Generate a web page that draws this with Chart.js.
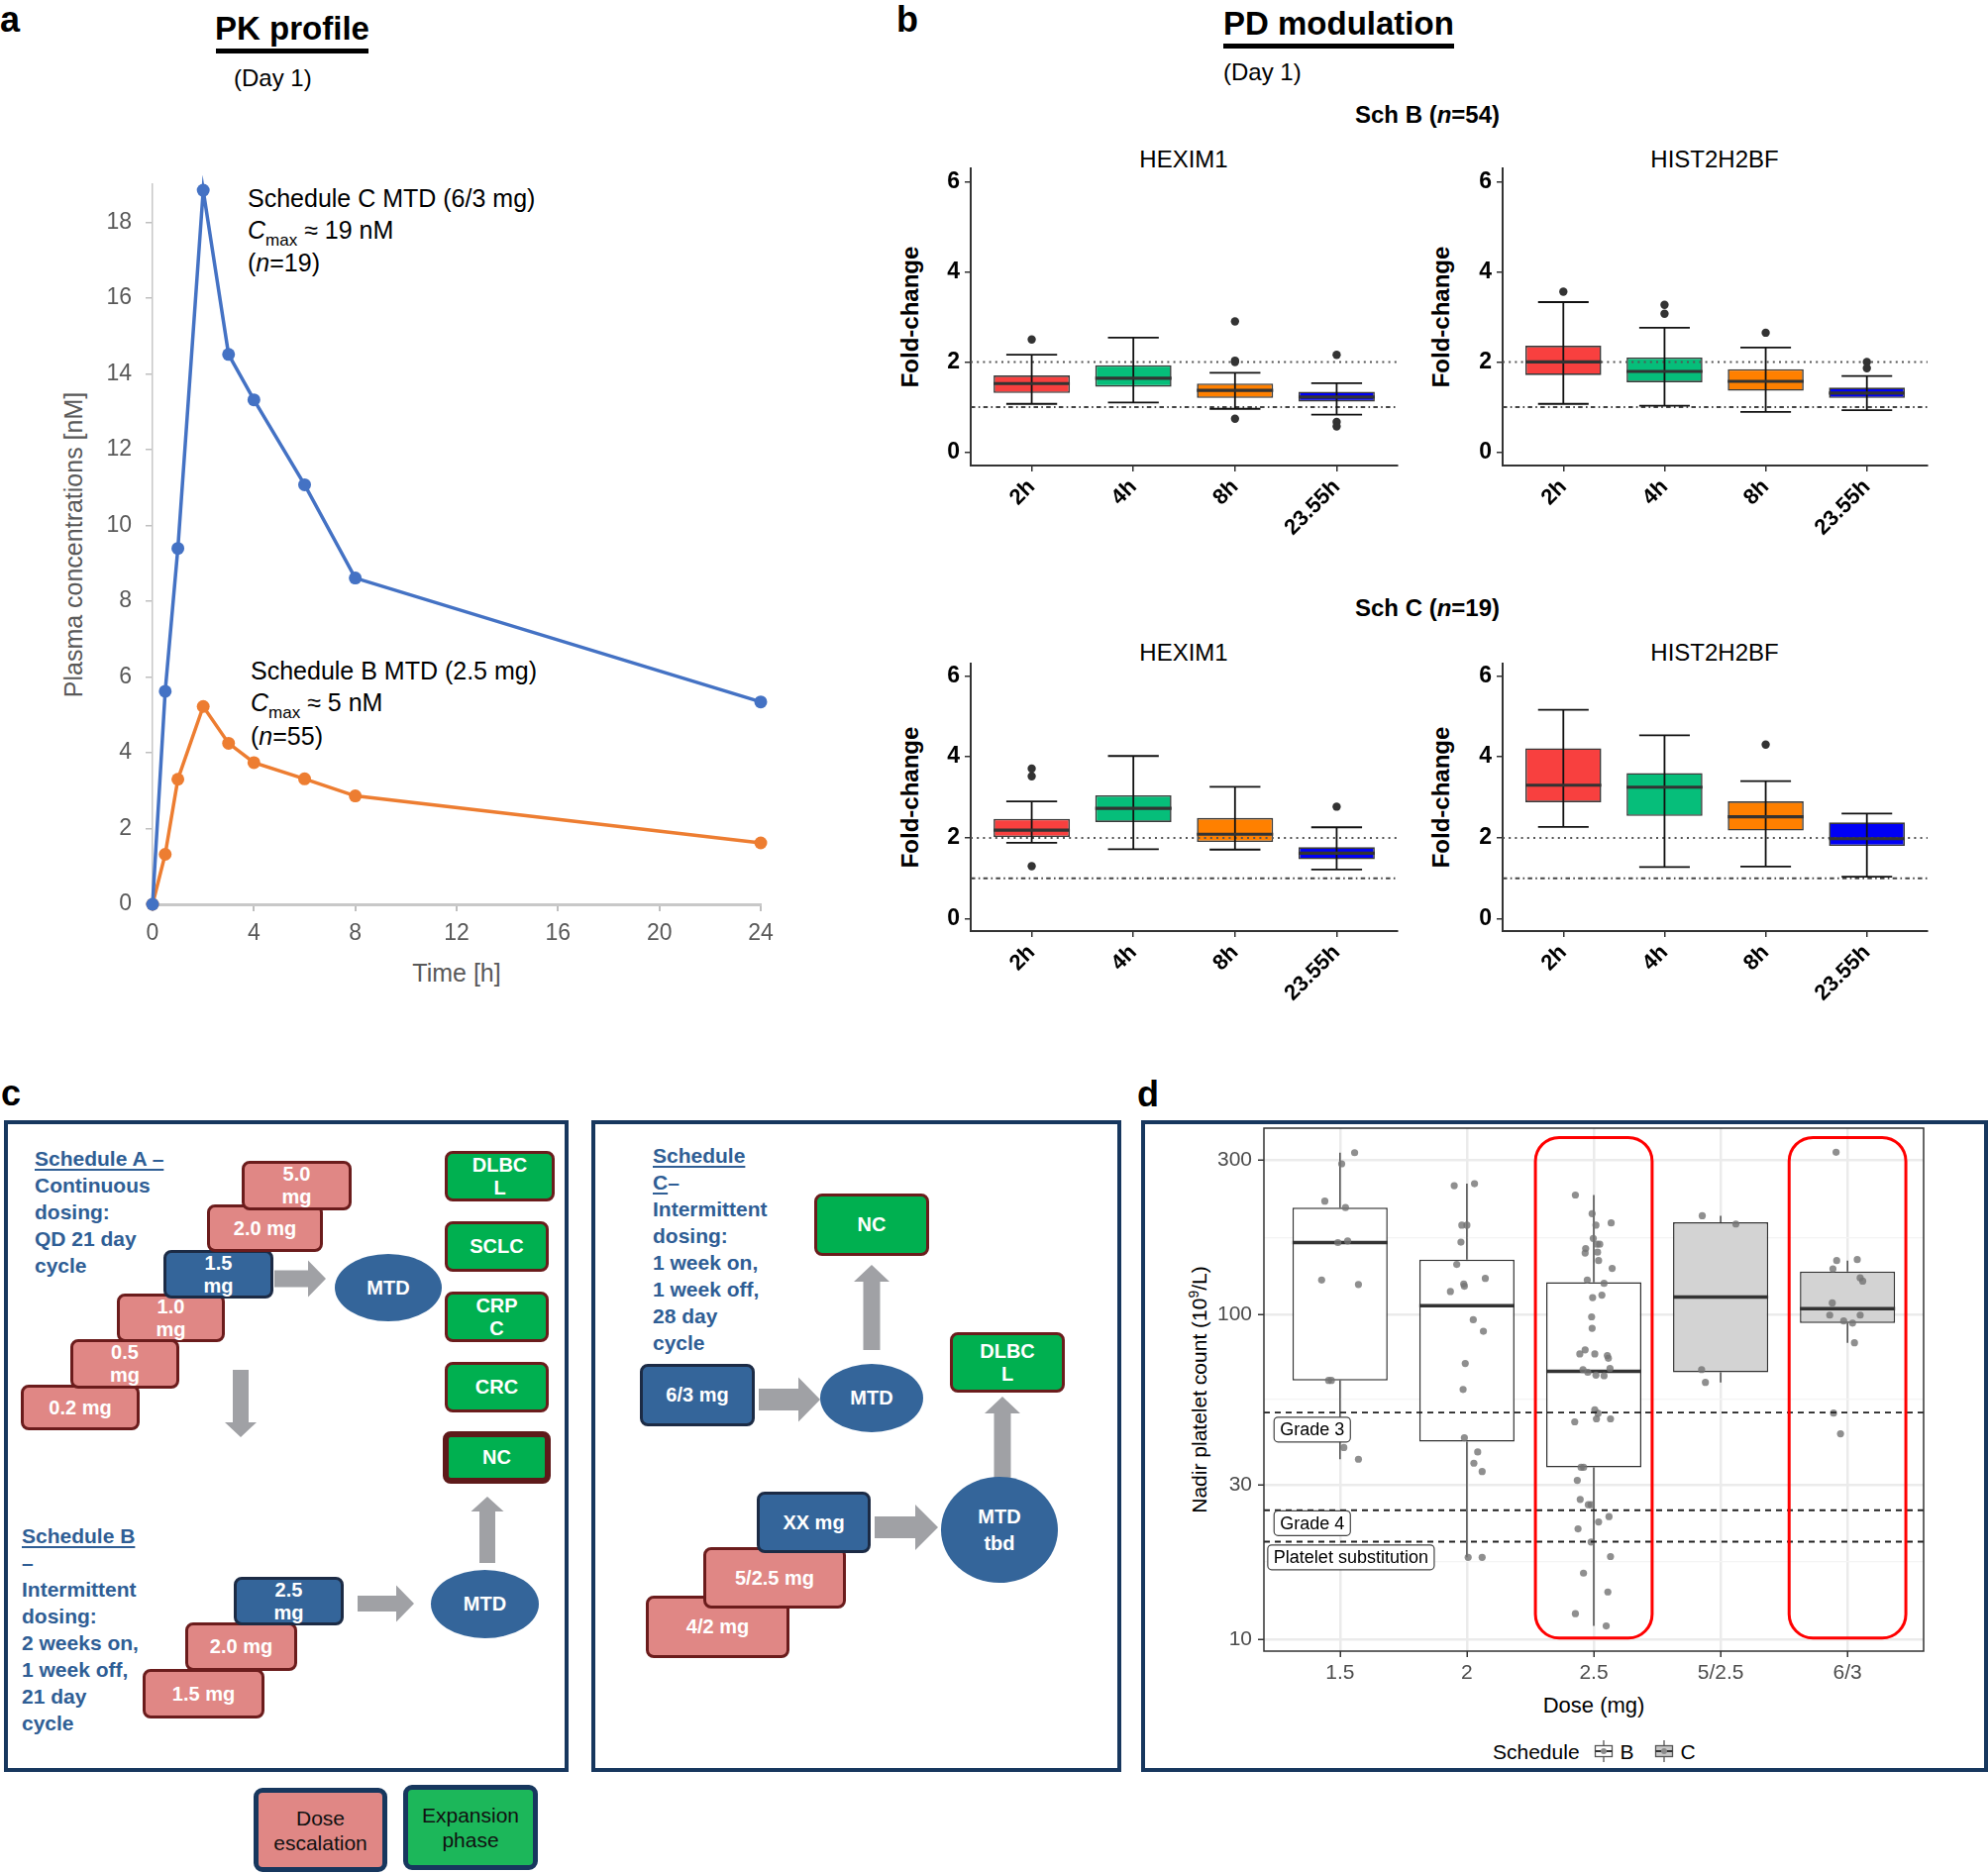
<!DOCTYPE html>
<html>
<head>
<meta charset="utf-8">
<title>PK / PD figure</title>
<script src="https://cdn.jsdelivr.net/npm/chart.js@4.4.1/dist/chart.umd.min.js"></script>
<style>
html,body{margin:0;padding:0;background:#fff;}
#root{position:relative;width:2007px;height:1891px;overflow:hidden;font-family:'Liberation Sans',Arial,Helvetica,sans-serif;color:#000;}
.t{position:absolute;white-space:nowrap;line-height:1;}
.c{transform:translate(-50%,-50%);}
.cr{transform:translate(-50%,-50%) rotate(-90deg);}
.lbl{font-weight:bold;font-size:36px;}
canvas{position:absolute;}
.frame{position:absolute;box-sizing:border-box;border:4px solid #17375e;}
.bx{position:absolute;box-sizing:border-box;border-radius:8px;display:flex;align-items:center;justify-content:center;text-align:center;color:#fff;font-weight:bold;font-size:20px;line-height:23px;}
.pink{background:#e08785;border:3px solid #6b1c1c;}
.blue{background:#34659a;border:3px solid #1c2b45;}
.green{background:#00b050;border:3px solid #6b1c1c;}
.ell{position:absolute;border-radius:50%;background:#34659a;color:#fff;font-weight:bold;font-size:20px;display:flex;align-items:center;justify-content:center;text-align:center;line-height:27px;}
.sched{position:absolute;color:#2f5e95;font-weight:bold;font-size:21px;line-height:27px;white-space:nowrap;}
.sched u{text-decoration-thickness:2px;text-underline-offset:3px;}
.leg{position:absolute;box-sizing:border-box;border:5px solid #17375e;border-radius:9px;display:flex;align-items:center;justify-content:center;text-align:center;color:#111;font-size:21px;line-height:25px;}
</style>
</head>
<body>
<div id="root">
  <!-- panel letters -->
  <div class="t lbl" style="left:0px;top:2px">a</div>
  <div class="t lbl" style="left:905px;top:2px">b</div>
  <div class="t lbl" style="left:1px;top:1086px">c</div>
  <div class="t lbl" style="left:1148px;top:1087px">d</div>

  <!-- panel a headings -->
  <div class="t c" style="left:295px;top:28px;font-size:33px;font-weight:bold">PK profile</div>
  <div class="t" style="left:218px;top:49px;width:154px;height:5px;background:#000"></div>
  <div class="t" style="left:236px;top:67px;font-size:24px">(Day 1)</div>

  <!-- panel a annotations -->
  <div class="t" style="left:250px;top:188px;font-size:25px">Schedule C MTD (6/3 mg)</div>
  <div class="t" style="left:250px;top:220px;font-size:25px"><i>C</i><sub style="font-size:17px;vertical-align:-7px;line-height:0">max</sub> ≈ 19 nM</div>
  <div class="t" style="left:250px;top:253px;font-size:25px">(<i>n</i>=19)</div>
  <div class="t" style="left:253px;top:665px;font-size:25px">Schedule B MTD (2.5 mg)</div>
  <div class="t" style="left:253px;top:697px;font-size:25px"><i>C</i><sub style="font-size:17px;vertical-align:-7px;line-height:0">max</sub> ≈ 5 nM</div>
  <div class="t" style="left:253px;top:731px;font-size:25px">(<i>n</i>=55)</div>
  <div class="t cr" style="left:74px;top:550px;font-size:25px;color:#595959">Plasma concentrations [nM]</div>
  <div class="t c" style="left:461px;top:982px;font-size:25px;color:#595959">Time [h]</div>

  <!-- panel b headings -->
  <div class="t" style="left:1235px;top:7px;font-size:33px;font-weight:bold">PD modulation</div>
  <div class="t" style="left:1235px;top:44px;width:233px;height:5px;background:#000"></div>
  <div class="t" style="left:1235px;top:61px;font-size:24px">(Day 1)</div>
  <div class="t c" style="left:1441px;top:116px;font-size:24px;font-weight:bold">Sch B (<i>n</i>=54)</div>
  <div class="t c" style="left:1441px;top:614px;font-size:24px;font-weight:bold">Sch C (<i>n</i>=19)</div>
  <div class="t c" style="left:1195px;top:161px;font-size:24px">HEXIM1</div>
  <div class="t c" style="left:1731px;top:161px;font-size:24px">HIST2H2BF</div>
  <div class="t c" style="left:1195px;top:659px;font-size:24px">HEXIM1</div>
  <div class="t c" style="left:1731px;top:659px;font-size:24px">HIST2H2BF</div>
  <div class="t cr" style="left:919px;top:320px;font-size:24px;font-weight:bold">Fold-change</div>
  <div class="t cr" style="left:1455px;top:320px;font-size:24px;font-weight:bold">Fold-change</div>
  <div class="t cr" style="left:919px;top:805px;font-size:24px;font-weight:bold">Fold-change</div>
  <div class="t cr" style="left:1455px;top:805px;font-size:24px;font-weight:bold">Fold-change</div>

  <!-- panel c/d frames -->
  <div class="frame" style="left:4px;top:1131px;width:570px;height:658px"></div>
  <div class="frame" style="left:597px;top:1131px;width:535px;height:658px"></div>
  <div class="frame" style="left:1152px;top:1131px;width:855px;height:658px"></div>

  <svg id="arrows" width="2007" height="1891" style="position:absolute;left:0;top:0"></svg>

  <!-- panel c : schedule A -->
  <div class="sched" style="left:35px;top:1156px"><u>Schedule A –</u><br>Continuous<br>dosing:<br>QD 21 day<br>cycle</div>
  <div class="bx pink" style="left:21px;top:1398px;width:120px;height:46px">0.2 mg</div>
  <div class="bx pink" style="left:71px;top:1352px;width:110px;height:50px">0.5<br>mg</div>
  <div class="bx pink" style="left:118px;top:1306px;width:109px;height:49px">1.0<br>mg</div>
  <div class="bx blue" style="left:165px;top:1262px;width:111px;height:49px">1.5<br>mg</div>
  <div class="bx pink" style="left:209px;top:1216px;width:117px;height:48px">2.0 mg</div>
  <div class="bx pink" style="left:244px;top:1172px;width:111px;height:50px">5.0<br>mg</div>
  <div class="ell" style="left:338px;top:1266px;width:108px;height:68px">MTD</div>
  <div class="bx green" style="left:449px;top:1162px;width:111px;height:51px">DLBC<br>L</div>
  <div class="bx green" style="left:449px;top:1233px;width:105px;height:51px">SCLC</div>
  <div class="bx green" style="left:449px;top:1304px;width:105px;height:51px">CRP<br>C</div>
  <div class="bx green" style="left:449px;top:1375px;width:105px;height:51px">CRC</div>
  <div class="bx green" style="left:447px;top:1445px;width:109px;height:53px;border-width:6px;border-color:#5e1a1a">NC</div>

  <!-- panel c : schedule B -->
  <div class="sched" style="left:22px;top:1537px"><u>Schedule B </u><br>–<br>Intermittent<br>dosing:<br>2 weeks on,<br>1 week off,<br>21 day<br>cycle</div>
  <div class="bx pink" style="left:144px;top:1685px;width:123px;height:50px">1.5 mg</div>
  <div class="bx pink" style="left:187px;top:1638px;width:113px;height:49px">2.0 mg</div>
  <div class="bx blue" style="left:236px;top:1592px;width:111px;height:49px">2.5<br>mg</div>
  <div class="ell" style="left:435px;top:1585px;width:109px;height:69px">MTD</div>

  <!-- panel c : schedule C -->
  <div class="sched" style="left:659px;top:1153px"><u>Schedule </u><br><u>C</u>–<br>Intermittent<br>dosing:<br>1 week on,<br>1 week off,<br>28 day<br>cycle</div>
  <div class="bx blue" style="left:646px;top:1377px;width:116px;height:63px">6/3 mg</div>
  <div class="ell" style="left:828px;top:1377px;width:104px;height:69px">MTD</div>
  <div class="bx green" style="left:822px;top:1205px;width:116px;height:63px">NC</div>
  <div class="bx green" style="left:959px;top:1345px;width:116px;height:61px">DLBC<br>L</div>
  <div class="ell" style="left:950px;top:1491px;width:118px;height:107px">MTD<br>tbd</div>
  <div class="bx pink" style="left:652px;top:1611px;width:145px;height:63px">4/2 mg</div>
  <div class="bx pink" style="left:710px;top:1562px;width:144px;height:62px">5/2.5 mg</div>
  <div class="bx blue" style="left:764px;top:1506px;width:115px;height:62px">XX mg</div>

  <!-- panel c legend -->
  <div class="leg" style="left:256px;top:1805px;width:135px;height:85px;background:#e08785">Dose<br>escalation</div>
  <div class="leg" style="left:407px;top:1802px;width:136px;height:86px;background:#1cb75a">Expansion<br>phase</div>

  <!-- panel d texts -->
  <div class="t c" style="left:1609px;top:1722px;font-size:22px">Dose (mg)</div>
  <div class="t cr" style="left:1210px;top:1403px;font-size:21px">Nadir platelet count (10<sup style="font-size:14px;line-height:0">9</sup>/L)</div>
  <div class="t" style="left:1507px;top:1756px;font-size:21px;display:flex;align-items:center;gap:0">
    <span>Schedule</span>
    <svg width="22" height="24" style="margin-left:13px"><line x1="11" y1="1" x2="11" y2="23" stroke="#555" stroke-width="1.3"/><rect x="2.5" y="6.5" width="17" height="11" fill="#fff" stroke="#555" stroke-width="1.3"/><line x1="2.5" y1="12" x2="19.5" y2="12" stroke="#333" stroke-width="2"/><circle cx="11" cy="12" r="3" fill="#8a8a8a"/></svg>
    <span style="margin-left:6px">B</span>
    <svg width="22" height="24" style="margin-left:19px"><line x1="11" y1="1" x2="11" y2="23" stroke="#555" stroke-width="1.3"/><rect x="2.5" y="6.5" width="17" height="11" fill="#c8c8c8" stroke="#555" stroke-width="1.3"/><line x1="2.5" y1="12" x2="19.5" y2="12" stroke="#333" stroke-width="2"/><circle cx="11" cy="12" r="3" fill="#8a8a8a"/></svg>
    <span style="margin-left:6px">C</span>
  </div>

  <canvas id="chartA"></canvas>
  <canvas id="chartB1"></canvas>
  <canvas id="chartB2"></canvas>
  <canvas id="chartB3"></canvas>
  <canvas id="chartB4"></canvas>
  <canvas id="chartD"></canvas>
</div>

<script>
// ===================== DATA =====================
// Panel a: PK profile (Day 1)
const pkTimes      = [0, 0.5, 1, 2, 3, 4, 6, 8, 24];
const pkScheduleC  = [0, 5.62, 9.39, 18.84, 14.51, 13.31, 11.07, 8.61, 5.34];
const pkScheduleB  = [0, 1.32, 3.30, 5.22, 4.25, 3.74, 3.31, 2.86, 1.62];
const pkTimeTicks  = [0, 4, 8, 12, 16, 20, 24];
const pkConcTicks  = [0, 2, 4, 6, 8, 10, 12, 14, 16, 18];

// Panel b: PD modulation, boxes = [lower whisker, Q1, median, Q3, upper whisker]
const pdTimepoints = ['2h', '4h', '8h', '23.55h'];
const pdFoldTicks  = [0, 2, 4, 6];
const pdThresholds = [2, 1];
const schB_HEXIM1 = [[1.07,1.31,1.52,1.70,2.16],[1.10,1.45,1.64,1.93,2.54],[0.96,1.20,1.37,1.52,1.76],[0.83,1.12,1.22,1.34,1.53]];
const schB_HEXIM1_outliers = [[2.50],[],[2.90,2.03,2.00,0.74],[2.16,0.67,0.57]];
const schB_HIST = [[1.07,1.71,2.00,2.36,3.33],[1.03,1.55,1.79,2.10,2.76],[0.89,1.36,1.57,1.84,2.32],[0.93,1.20,1.31,1.43,1.69]];
const schB_HIST_outliers = [[3.56],[3.27,3.07],[2.65],[2.00,1.86]];
const schC_HEXIM1 = [[1.88,2.02,2.19,2.47,2.90],[1.72,2.39,2.73,3.05,4.02],[1.71,1.90,2.09,2.49,3.26],[1.22,1.47,1.62,1.77,2.26]];
const schC_HEXIM1_outliers = [[3.71,3.52,1.30],[],[],[2.77]];
const schC_HIST = [[2.27,2.88,3.30,4.21,5.16],[1.28,2.54,3.25,3.60,4.53],[1.29,2.18,2.52,2.90,3.40],[1.04,1.80,1.98,2.38,2.60]];
const schC_HIST_outliers = [[],[],[4.30],[]];

// Panel d: nadir platelet counts
const doseLabels   = ['1.5', '2', '2.5', '5/2.5', '6/3'];
const doseSchedule = ['B', 'B', 'B', 'C', 'C'];
const nadirTicks   = [10, 30, 100, 300];
const nadirMinorTicks = [17.32, 54.77, 173.2];
const nadirBoxes = [[35.9,62.8,167,214,316],[17.9,40.7,106.7,148,253.6],[11.0,33.9,67,126,234],[61.9,66.5,113.4,193,202],[82,94.3,104.5,136,147]];
const nadirValues = [
  [316,292,224,214,167,169,128,124,62.8,62.8,39,35.9],
  [250,253.6,189,189,167.5,143,129.5,124.5,122.5,118,96.6,89,70.8,58.9,41.8,37.8,34.9,32.9,17.9,17.9],
  [234,205,189,192,172,165,165,160,155,156,147,139,128,125,115,113,98.6,90.9,78,75.8,75.8,74.9,73.5,67.8,66.5,65.2,64.9,68.4,51,49.7,47.8,47.8,46.8,33.9,33.9,30.9,27.0,26.0,26.0,23.9,23.0,21.9,19.95,18.0,16.0,14.0,12.0,11.0],
  [202,190.5,67.8,61.9],
  [317,147,148,138.6,130,127,108.8,99.8,99.8,95.7,94.3,82,49.8,43]
];
const nadirJitter = [
  [0.115,0.013,-0.12,0.043,-0.017,0.06,-0.145,0.145,-0.09,-0.068,0.03,0.145],
  [-0.10,0.06,-0.04,0.0,-0.047,-0.08,0.145,-0.025,-0.02,-0.13,0.05,0.13,-0.013,-0.03,-0.02,0.085,0.055,0.12,0.01,0.12],
  [-0.145,-0.013,0.017,0.137,-0.004,0.026,0.047,-0.064,-0.068,0.03,0.038,0.145,-0.051,0.081,0.064,-0.009,-0.017,-0.013,-0.068,-0.11,0.008,0.107,0.115,-0.085,-0.047,0.017,0.081,0.128,0.008,0.034,0.132,0.021,-0.15,-0.1,-0.08,-0.13,-0.107,-0.043,-0.021,0.12,0.038,-0.124,-0.021,0.132,-0.081,0.111,-0.145,0.098],
  [-0.145,0.12,-0.15,-0.12],
  [-0.09,-0.085,0.077,-0.115,0.1,0.12,-0.12,-0.14,0.1,-0.03,0.04,0.055,-0.11,-0.055]
];
const toxicityLevels = [50, 25, 20];
const toxicityLabels = ['Grade 3', 'Grade 4', 'Platelet substitution'];
const toxicityLabelX = [-0.52, -0.52, -0.57];
const toxicityLabelY = [44.3, 22.8, 17.9];
const highlightedDoses = ['2.5', '6/3'];
const highlightRange = [10.1, 352];

// ===================== HELPERS =====================
const FONT = "'Liberation Sans', Arial, Helvetica, sans-serif";
Chart.defaults.font.family = FONT;
Chart.defaults.animation = false;

function mount(id, r) {
  const c = document.getElementById(id);
  c.width = r.w; c.height = r.h;
  c.style.left = r.l + 'px'; c.style.top = r.t + 'px';
  c.style.width = r.w + 'px'; c.style.height = r.h + 'px';
  return c.getContext('2d');
}
function fit(r, a) {
  return {
    padding: {left: 0, top: a.y0 - r.t, right: r.l + r.w - a.x1, bottom: 0},
    yWidth: a.x0 - r.l,
    xHeight: r.t + r.h - a.y1
  };
}
// force exact scale box sizes and drop label-overflow paddings so the plot area lands where wanted
function fixX(h) { return s => { s.height = h; s.paddingLeft = 0; s.paddingRight = 0; s.paddingTop = 0; s.paddingBottom = 0; }; }
function fixY(w) { return s => { s.width = w; s.paddingLeft = 0; s.paddingRight = 0; s.paddingTop = 0; s.paddingBottom = 0; }; }
function rrect(ctx, x, y, w, h, r) {
  ctx.beginPath();
  ctx.moveTo(x + r, y);
  ctx.lineTo(x + w - r, y); ctx.arcTo(x + w, y, x + w, y + r, r);
  ctx.lineTo(x + w, y + h - r); ctx.arcTo(x + w, y + h, x + w - r, y + h, r);
  ctx.lineTo(x + r, y + h); ctx.arcTo(x, y + h, x, y + h - r, r);
  ctx.lineTo(x, y + r); ctx.arcTo(x, y, x + r, y, r);
  ctx.closePath();
}
// whiskers, medians and reference lines drawn right after the box (bar) dataset
function boxPlugin(cfg) {
  return {
    id: 'boxw',
    afterDatasetDraw(chart, args) {
      if (args.meta.type !== 'bar') return;
      const ctx = chart.ctx, a = chart.chartArea, x = chart.scales.x, y = chart.scales.y;
      const unit = x.getPixelForValue(1) - x.getPixelForValue(0);
      ctx.save();
      (cfg.refLines || []).forEach(rl => {
        const py = y.getPixelForValue(rl.value);
        ctx.setLineDash(rl.dash); ctx.strokeStyle = rl.color; ctx.lineWidth = rl.width;
        ctx.beginPath(); ctx.moveTo(a.left, py); ctx.lineTo(a.right, py); ctx.stroke();
      });
      ctx.setLineDash([]);
      cfg.boxes.forEach((b, i) => {
        const cx = x.getPixelForValue(i);
        const p = b.map(v => y.getPixelForValue(v));
        ctx.strokeStyle = cfg.whiskerColor; ctx.lineWidth = cfg.whiskerWidth;
        ctx.beginPath();
        if (cfg.fullWhisker) { ctx.moveTo(cx, p[0]); ctx.lineTo(cx, p[4]); }
        else { ctx.moveTo(cx, p[3]); ctx.lineTo(cx, p[4]); ctx.moveTo(cx, p[1]); ctx.lineTo(cx, p[0]); }
        if (cfg.cap) {
          const h = unit * cfg.cap / 2;
          ctx.moveTo(cx - h, p[0]); ctx.lineTo(cx + h, p[0]);
          ctx.moveTo(cx - h, p[4]); ctx.lineTo(cx + h, p[4]);
        }
        ctx.stroke();
        const hw = unit * cfg.boxWidth / 2;
        ctx.strokeStyle = cfg.medianColor; ctx.lineWidth = cfg.medianWidth;
        ctx.beginPath(); ctx.moveTo(cx - hw, p[2]); ctx.lineTo(cx + hw, p[2]); ctx.stroke();
      });
      ctx.restore();
    }
  };
}

// ===================== PANEL A =====================
(function () {
  const rect = {l: 0, t: 150, w: 830, h: 870}, area = {x0: 154, y0: 186, x1: 768, y1: 913};
  const f = fit(rect, area);
  const line = (vals, color, label) => ({
    label, data: pkTimes.map((t, i) => ({x: t, y: vals[i]})),
    borderColor: color, backgroundColor: color, pointBackgroundColor: color,
    borderWidth: 3.5, pointRadius: 6.5, pointBorderWidth: 0, tension: 0, clip: false
  });
  new Chart(mount('chartA', rect), {
    type: 'line',
    data: {datasets: [line(pkScheduleC, '#4472c4', 'Schedule C MTD (6/3 mg)'), line(pkScheduleB, '#ed7d31', 'Schedule B MTD (2.5 mg)')]},
    options: {
      responsive: false, animation: false, devicePixelRatio: 1,
      layout: {padding: f.padding, autoPadding: false},
      plugins: {legend: {display: false}, tooltip: {enabled: false}},
      scales: {
        x: {type: 'linear', min: 0, max: 24,
            afterBuildTicks: s => { s.ticks = pkTimeTicks.map(v => ({value: v})); },
            afterFit: fixX(f.xHeight),
            ticks: {color: '#595959', font: {size: 23}, padding: 9, maxRotation: 0, autoSkip: false},
            grid: {drawOnChartArea: false, tickLength: 7, color: '#bfbfbf', lineWidth: 2},
            border: {display: true, color: '#c8c8c8', width: 3}},
        y: {min: 0, max: 19,
            afterBuildTicks: s => { s.ticks = pkConcTicks.map(v => ({value: v})); },
            afterFit: fixY(f.yWidth),
            ticks: {color: '#595959', font: {size: 23}, padding: 14},
            grid: {drawOnChartArea: false, tickLength: 7, color: '#bfbfbf', lineWidth: 1.5},
            border: {display: true, color: '#c8c8c8', width: 1.5}}
      }
    }
  });
})();

// ===================== PANEL B =====================
const pdFill = ['#f8403f', '#06be7a', '#ff8000', '#0000f5'];
function pdChart(id, rect, area, boxes, outliers) {
  const f = fit(rect, area);
  new Chart(mount(id, rect), {
    type: 'bar',
    data: {datasets: [
      {type: 'bar', data: boxes.map((b, i) => ({x: i, y: [b[1], b[3]]})),
       backgroundColor: pdFill, borderColor: '#3a3a3a', borderWidth: 1.6, borderSkipped: false,
       barPercentage: 0.75, categoryPercentage: 1, grouped: false, order: 2},
      {type: 'scatter', data: outliers.flatMap((arr, i) => arr.map(v => ({x: i, y: v}))),
       pointRadius: 4.2, pointBackgroundColor: '#333', pointBorderWidth: 0, order: 1}
    ]},
    options: {
      responsive: false, animation: false, devicePixelRatio: 1,
      layout: {padding: f.padding, autoPadding: false},
      plugins: {legend: {display: false}, tooltip: {enabled: false}},
      scales: {
        x: {type: 'linear', min: -0.6, max: 3.6, offset: false,
            afterBuildTicks: s => { s.ticks = pdTimepoints.map((_, i) => ({value: i})); },
            afterFit: fixX(f.xHeight),
            ticks: {callback: v => pdTimepoints[v], color: '#000', font: {size: 22, weight: 'bold'},
                    minRotation: 45, maxRotation: 45, padding: 3, autoSkip: false},
            grid: {drawOnChartArea: false, offset: false, tickLength: 6, color: '#333', lineWidth: 1.5},
            border: {display: true, color: '#333', width: 2}},
        y: {min: -0.3, max: 6.3,
            afterBuildTicks: s => { s.ticks = pdFoldTicks.map(v => ({value: v})); },
            afterFit: fixY(f.yWidth),
            ticks: {color: '#000', font: {size: 23, weight: 'bold'}, padding: 5},
            grid: {drawOnChartArea: false, tickLength: 6, color: '#333', lineWidth: 1.5},
            border: {display: true, color: '#333', width: 2}}
      }
    },
    plugins: [boxPlugin({
      boxes, fullWhisker: true, cap: 0.5, boxWidth: 0.75,
      whiskerColor: '#111', whiskerWidth: 1.8, medianColor: '#333', medianWidth: 3.2,
      refLines: [
        {value: pdThresholds[0], dash: [2, 4.2], color: '#555', width: 2},
        {value: pdThresholds[1], dash: [4.5, 3.3, 1.6, 3.3], color: '#444', width: 2}
      ]
    })]
  });
}
pdChart('chartB1', {l: 925, t: 150, w: 500, h: 440}, {x0: 980, y0: 170, x1: 1411, y1: 470}, schB_HEXIM1, schB_HEXIM1_outliers);
pdChart('chartB2', {l: 1462, t: 150, w: 545, h: 440}, {x0: 1517, y0: 170, x1: 1946, y1: 470}, schB_HIST, schB_HIST_outliers);
pdChart('chartB3', {l: 925, t: 650, w: 500, h: 440}, {x0: 980, y0: 670, x1: 1411, y1: 940}, schC_HEXIM1, schC_HEXIM1_outliers);
pdChart('chartB4', {l: 1462, t: 650, w: 545, h: 440}, {x0: 1517, y0: 670, x1: 1946, y1: 940}, schC_HIST, schC_HIST_outliers);

// ===================== PANEL C arrows =====================
(function () {
  const svg = document.getElementById('arrows');
  const col = '#a0a1a5';
  function poly(pts) {
    const p = document.createElementNS('http://www.w3.org/2000/svg', 'polygon');
    p.setAttribute('points', pts.map(q => q.join(',')).join(' '));
    p.setAttribute('fill', col);
    svg.appendChild(p);
  }
  function right(x1, x2, y, sh, hh, hl) {
    poly([[x1, y - sh / 2], [x2 - hl, y - sh / 2], [x2 - hl, y - hh / 2], [x2, y], [x2 - hl, y + hh / 2], [x2 - hl, y + sh / 2], [x1, y + sh / 2]]);
  }
  function up(x, yb, yt, sw, hw, hl) {
    poly([[x - sw / 2, yb], [x - sw / 2, yt + hl], [x - hw / 2, yt + hl], [x, yt], [x + hw / 2, yt + hl], [x + sw / 2, yt + hl], [x + sw / 2, yb]]);
  }
  function down(x, yt, yb, sw, hw, hl) {
    poly([[x - sw / 2, yt], [x - sw / 2, yb - hl], [x - hw / 2, yb - hl], [x, yb], [x + hw / 2, yb - hl], [x + sw / 2, yb - hl], [x + sw / 2, yt]]);
  }
  right(277, 329, 1291, 17, 37, 18);
  down(243, 1383, 1451, 16, 32, 15);
  up(492, 1578, 1511, 16, 33, 15);
  right(361, 418, 1619, 16, 37, 18);
  right(766, 828, 1413, 22, 45, 22);
  up(880, 1363, 1277, 17, 36, 17);
  right(883, 947, 1542, 22, 46, 23);
  up(1012, 1492, 1410, 17, 36, 17);
})();

// ===================== PANEL D =====================
(function () {
  const rect = {l: 1160, t: 1110, w: 840, h: 626}, area = {x0: 1276, y0: 1139, x1: 1942, y1: 1667};
  const f = fit(rect, area);
  const allY = nadirTicks.concat(nadirMinorTicks).sort((a, b) => a - b);
  const isMajor = v => nadirTicks.includes(v);
  const annot = {
    id: 'dAnnot',
    afterDatasetsDraw(chart) {
      const ctx = chart.ctx, a = chart.chartArea, x = chart.scales.x, y = chart.scales.y;
      ctx.save();
      ctx.strokeStyle = '#222'; ctx.lineWidth = 1.8; ctx.setLineDash([6, 5]);
      toxicityLevels.forEach(v => {
        const py = y.getPixelForValue(v);
        ctx.beginPath(); ctx.moveTo(a.left, py); ctx.lineTo(a.right, py); ctx.stroke();
      });
      ctx.setLineDash([]);
      ctx.font = '18px ' + FONT; ctx.textBaseline = 'middle'; ctx.textAlign = 'left';
      toxicityLabels.forEach((txt, i) => {
        const px = x.getPixelForValue(toxicityLabelX[i]), py = y.getPixelForValue(toxicityLabelY[i]);
        const w = ctx.measureText(txt).width + 12, h = 25;
        rrect(ctx, px, py - h / 2, w, h, 4);
        ctx.fillStyle = '#fff'; ctx.fill();
        ctx.strokeStyle = '#444'; ctx.lineWidth = 1.2; ctx.stroke();
        ctx.fillStyle = '#000'; ctx.fillText(txt, px + 6, py + 1);
      });
      ctx.strokeStyle = '#ff0000'; ctx.lineWidth = 3;
      highlightedDoses.forEach(d => {
        const i = doseLabels.indexOf(d);
        const x0 = x.getPixelForValue(i - 0.46), x1 = x.getPixelForValue(i + 0.46);
        const y0 = y.getPixelForValue(highlightRange[1]), y1 = y.getPixelForValue(highlightRange[0]);
        rrect(ctx, x0, y0, x1 - x0, y1 - y0, 24); ctx.stroke();
      });
      ctx.restore();
    },
    afterDraw(chart) {
      const ctx = chart.ctx, a = chart.chartArea;
      ctx.save(); ctx.strokeStyle = '#333'; ctx.lineWidth = 1.5;
      ctx.strokeRect(a.left, a.top, a.right - a.left, a.bottom - a.top);
      ctx.restore();
    }
  };
  new Chart(mount('chartD', rect), {
    type: 'bar',
    data: {datasets: [
      {type: 'bar', data: nadirBoxes.map((b, i) => ({x: i, y: [b[1], b[3]]})),
       backgroundColor: doseSchedule.map(s => s === 'B' ? '#ffffff' : '#d3d3d3'),
       borderColor: '#333', borderWidth: 1.5, borderSkipped: false,
       barPercentage: 0.75, categoryPercentage: 1, grouped: false, order: 2},
      {type: 'scatter', data: nadirValues.flatMap((arr, i) => arr.map((v, k) => ({x: i + nadirJitter[i][k], y: v}))),
       pointRadius: 3.6, pointBackgroundColor: 'rgba(115,115,115,0.8)', pointBorderWidth: 0, order: 1}
    ]},
    options: {
      responsive: false, animation: false, devicePixelRatio: 1,
      layout: {padding: f.padding, autoPadding: false},
      plugins: {legend: {display: false}, tooltip: {enabled: false}},
      scales: {
        x: {type: 'linear', min: -0.6, max: 4.6, offset: false,
            afterBuildTicks: s => { s.ticks = doseLabels.map((_, i) => ({value: i})); },
            afterFit: fixX(f.xHeight),
            ticks: {callback: v => doseLabels[v], color: '#4d4d4d', font: {size: 21}, padding: 4, maxRotation: 0, autoSkip: false},
            grid: {offset: false, color: '#ebebeb', lineWidth: 2.5, tickColor: '#333', tickLength: 6, tickWidth: 1.5},
            border: {display: false}},
        y: {type: 'logarithmic', min: 9.2, max: 376,
            afterBuildTicks: s => { s.ticks = allY.map(v => ({value: v, major: isMajor(v)})); },
            afterFit: fixY(f.yWidth),
            ticks: {callback: v => isMajor(v) ? String(v) : '', color: '#4d4d4d', font: {size: 21}, padding: 6, autoSkip: false},
            grid: {color: c => isMajor(c.tick.value) ? '#ebebeb' : '#f4f4f4',
                   lineWidth: c => isMajor(c.tick.value) ? 2.5 : 1.3,
                   tickColor: c => isMajor(c.tick.value) ? '#333' : 'rgba(0,0,0,0)', tickLength: 6, tickWidth: 1.5},
            border: {display: false}}
      }
    },
    plugins: [boxPlugin({
      boxes: nadirBoxes, fullWhisker: false, cap: 0, boxWidth: 0.75,
      whiskerColor: '#333', whiskerWidth: 1.3, medianColor: '#333', medianWidth: 3.6
    }), annot]
  });
})();
</script>
</body>
</html>
